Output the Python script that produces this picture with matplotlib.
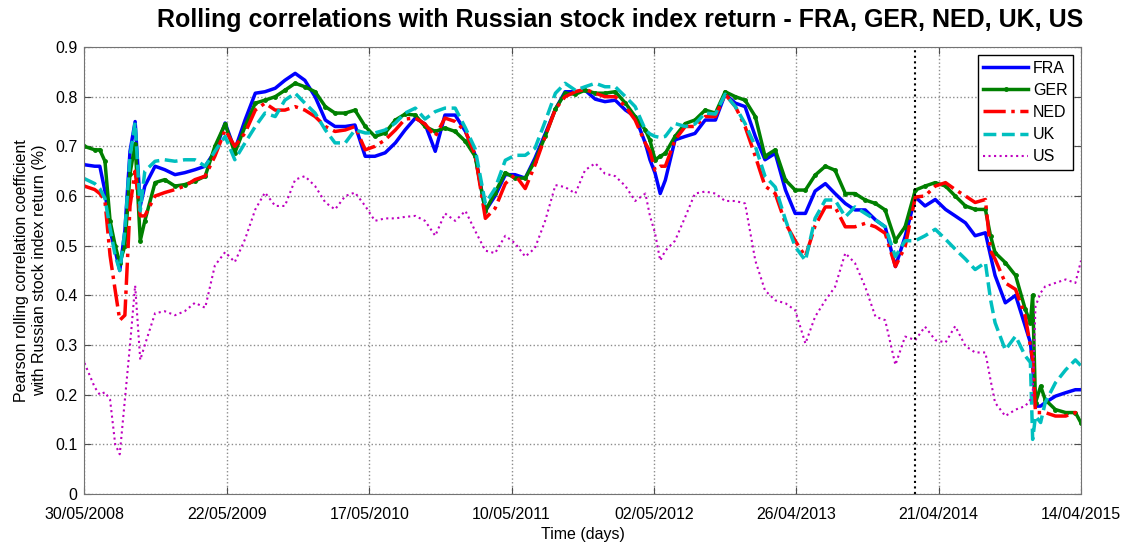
import numpy as np
import matplotlib
matplotlib.use("Agg")
from matplotlib import pyplot as plt

plt.rcParams['font.family'] = ['Liberation Sans', 'DejaVu Sans']

# trading-day index of each sampled point
days = [0, 18, 27, 36, 45, 54, 62, 71, 80, 89, 98, 106, 124, 141, 159, 176, 194, 212,
        229, 247, 264, 282, 300, 317, 335, 352, 370, 387, 405, 423, 440, 458, 475, 493,
        510, 528, 546, 563, 581, 598, 616, 633, 651, 669, 686, 704, 721, 739, 756, 774,
        791, 809, 827, 844, 862, 879, 897, 914, 932, 950, 967, 985, 993, 1002, 1011, 1020,
        1037, 1055, 1072, 1090, 1108, 1125, 1143, 1160, 1178, 1195, 1213, 1231, 1248, 1266,
        1283, 1301, 1318, 1336, 1353, 1371, 1389, 1406, 1424, 1441, 1459, 1476, 1494, 1512,
        1529, 1547, 1564, 1582, 1591, 1599, 1617, 1635, 1652, 1661, 1665, 1670, 1679, 1687,
        1705, 1723, 1740, 1750]

fra = [0.663, 0.660, 0.660, 0.610, 0.530, 0.490, 0.450, 0.530, 0.690, 0.750, 0.580, 0.620,
       0.660, 0.653, 0.643, 0.647, 0.653, 0.660, 0.690, 0.747, 0.693, 0.753, 0.807, 0.810,
       0.817, 0.833, 0.847, 0.833, 0.800, 0.753, 0.740, 0.740, 0.743, 0.680, 0.680, 0.687,
       0.707, 0.733, 0.757, 0.745, 0.690, 0.763, 0.763, 0.730, 0.683, 0.570, 0.600, 0.643,
       0.643, 0.636, 0.676, 0.725, 0.775, 0.810, 0.810, 0.813, 0.795, 0.790, 0.793, 0.773,
       0.760, 0.706, 0.673, 0.646, 0.605, 0.632, 0.713, 0.720, 0.726, 0.753, 0.753, 0.805,
       0.787, 0.780, 0.720, 0.673, 0.686, 0.612, 0.565, 0.565, 0.610, 0.625, 0.605, 0.585,
       0.572, 0.572, 0.552, 0.538, 0.458, 0.518, 0.598, 0.580, 0.593, 0.573, 0.560, 0.546,
       0.520, 0.526, 0.480, 0.440, 0.385, 0.400, 0.338, 0.305, 0.260, 0.177, 0.177, 0.184,
       0.197, 0.204, 0.210, 0.210]

ger = [0.700, 0.693, 0.693, 0.670, 0.550, 0.500, 0.465, 0.500, 0.645, 0.705, 0.510, 0.550,
       0.627, 0.633, 0.620, 0.623, 0.630, 0.640, 0.700, 0.745, 0.687, 0.740, 0.787, 0.793,
       0.800, 0.813, 0.827, 0.820, 0.810, 0.780, 0.767, 0.767, 0.773, 0.740, 0.720, 0.727,
       0.753, 0.765, 0.763, 0.740, 0.730, 0.737, 0.730, 0.710, 0.680, 0.570, 0.607, 0.647,
       0.636, 0.636, 0.670, 0.720, 0.775, 0.807, 0.805, 0.813, 0.807, 0.807, 0.810, 0.787,
       0.760, 0.733, 0.712, 0.673, 0.680, 0.686, 0.720, 0.746, 0.753, 0.773, 0.767, 0.810,
       0.800, 0.793, 0.760, 0.680, 0.693, 0.632, 0.612, 0.612, 0.642, 0.660, 0.652, 0.605,
       0.605, 0.592, 0.585, 0.572, 0.510, 0.538, 0.612, 0.620, 0.627, 0.620, 0.600, 0.580,
       0.573, 0.573, 0.520, 0.486, 0.466, 0.440, 0.372, 0.345, 0.400, 0.184, 0.217, 0.190,
       0.170, 0.164, 0.164, 0.143]

ned = [0.620, 0.613, 0.605, 0.590, 0.480, 0.410, 0.350, 0.360, 0.580, 0.650, 0.560, 0.560,
       0.600, 0.607, 0.613, 0.620, 0.633, 0.640, 0.680, 0.733, 0.700, 0.727, 0.773, 0.787,
       0.773, 0.773, 0.780, 0.773, 0.760, 0.740, 0.730, 0.733, 0.740, 0.693, 0.700, 0.713,
       0.733, 0.755, 0.757, 0.745, 0.720, 0.757, 0.750, 0.730, 0.683, 0.555, 0.575, 0.625,
       0.643, 0.615, 0.662, 0.720, 0.775, 0.800, 0.810, 0.815, 0.807, 0.800, 0.800, 0.780,
       0.753, 0.706, 0.690, 0.652, 0.660, 0.660, 0.713, 0.740, 0.740, 0.760, 0.760, 0.805,
       0.780, 0.740, 0.680, 0.620, 0.605, 0.545, 0.510, 0.478, 0.540, 0.578, 0.578, 0.538,
       0.538, 0.545, 0.538, 0.525, 0.458, 0.498, 0.598, 0.600, 0.620, 0.627, 0.613, 0.600,
       0.587, 0.593, 0.490, 0.473, 0.425, 0.412, 0.358, 0.298, 0.270, 0.164, 0.164, 0.164,
       0.157, 0.157, 0.164, 0.157]

uk = [0.635, 0.625, 0.615, 0.595, 0.535, 0.480, 0.450, 0.530, 0.680, 0.748, 0.570, 0.650,
      0.670, 0.673, 0.670, 0.673, 0.673, 0.660, 0.690, 0.720, 0.673, 0.707, 0.740, 0.767,
      0.760, 0.793, 0.807, 0.787, 0.767, 0.733, 0.707, 0.707, 0.733, 0.727, 0.727, 0.733,
      0.747, 0.767, 0.777, 0.755, 0.770, 0.777, 0.777, 0.737, 0.695, 0.585, 0.615, 0.672,
      0.682, 0.682, 0.696, 0.750, 0.807, 0.827, 0.813, 0.820, 0.827, 0.820, 0.820, 0.800,
      0.780, 0.733, 0.725, 0.720, 0.718, 0.720, 0.746, 0.740, 0.745, 0.767, 0.765, 0.805,
      0.780, 0.746, 0.700, 0.640, 0.618, 0.552, 0.498, 0.470, 0.555, 0.592, 0.592, 0.558,
      0.578, 0.565, 0.552, 0.538, 0.478, 0.510, 0.510, 0.520, 0.533, 0.513, 0.493, 0.473,
      0.452, 0.466, 0.392, 0.345, 0.290, 0.318, 0.278, 0.265, 0.110, 0.157, 0.144, 0.184,
      0.224, 0.250, 0.270, 0.258]

us = [0.264, 0.215, 0.200, 0.205, 0.190, 0.100, 0.080, 0.190, 0.300, 0.420, 0.270, 0.300,
      0.364, 0.368, 0.360, 0.368, 0.385, 0.375, 0.460, 0.487, 0.467, 0.513, 0.573, 0.607,
      0.580, 0.580, 0.633, 0.640, 0.620, 0.587, 0.573, 0.600, 0.607, 0.580, 0.550, 0.555,
      0.555, 0.558, 0.560, 0.550, 0.520, 0.565, 0.550, 0.570, 0.530, 0.490, 0.485, 0.520,
      0.505, 0.478, 0.495, 0.550, 0.622, 0.618, 0.605, 0.652, 0.666, 0.645, 0.640, 0.620,
      0.590, 0.605, 0.560, 0.525, 0.470, 0.490, 0.510, 0.558, 0.605, 0.609, 0.605, 0.590,
      0.590, 0.585, 0.470, 0.410, 0.390, 0.384, 0.370, 0.303, 0.357, 0.390, 0.417, 0.485,
      0.465, 0.417, 0.357, 0.350, 0.260, 0.317, 0.310, 0.337, 0.310, 0.305, 0.338, 0.298,
      0.285, 0.285, 0.230, 0.184, 0.157, 0.170, 0.177, 0.190, 0.200, 0.378, 0.405, 0.418,
      0.425, 0.432, 0.425, 0.470]

tick_days = [0, 250, 500, 750, 1000, 1250, 1500, 1750]
tick_labels = ['30/05/2008', '22/05/2009', '17/05/2010', '10/05/2011',
               '02/05/2012', '26/04/2013', '21/04/2014', '14/04/2015']
event_day = 1458

fig = plt.figure(figsize=(11.32, 5.43), dpi=100)
ax = fig.add_axes([0.0746, 0.0902, 0.8804, 0.8232])

ax.plot(days, fra, color=(0, 0, 1), lw=2.5, label='FRA')
ax.plot(days, ger, color=(0, 0.5, 0), lw=2.5, marker='.', ms=5, label='GER')
ax.plot(days, ned, color=(1, 0, 0), lw=2.5, ls='-.', label='NED')
ax.plot(days, uk, color=(0, 0.75, 0.75), lw=2.5, ls='--', label='UK')
ax.plot(days, us, color=(0.75, 0, 0.75), lw=1.5, ls=':', label='US')

ax.axvline(event_day, color='black', ls=':', lw=1.5)

ax.set_xlim(0, 1750)
ax.set_ylim(0, 0.9)
ax.set_xticks(tick_days)
ax.set_xticklabels(tick_labels)
ax.set_yticks(np.arange(0, 0.91, 0.1))
ax.set_yticklabels(['0', '0.1', '0.2', '0.3', '0.4', '0.5', '0.6', '0.7', '0.8', '0.9'])
ax.tick_params(direction='in', top=True, right=True, labelsize=11.5, length=5,
               color='0.3')
ax.tick_params(axis='x', pad=9)
ax.tick_params(axis='y', pad=5)
ax.grid(True, color='0.55', ls=':', lw=1)
ax.set_axisbelow(True)
for s in ax.spines.values():
    s.set_color('0.45')

fig.text(0.548, 0.963,
         'Rolling correlations with Russian stock index return - FRA, GER, NED, UK, US',
         fontsize=18, fontweight='bold', ha='center', va='center')
ax.set_xlabel('Time (days)', fontsize=11.5, labelpad=4)
ax.set_ylabel('Pearson rolling correlation coefficient\nwith Russian stock index return (%)',
              fontsize=11.5, labelpad=6)

leg = ax.legend(loc='upper right', fontsize=11.5, fancybox=False, framealpha=1,
                edgecolor='black', handlelength=2.8, handletextpad=0.3,
                borderpad=0.35, labelspacing=0.45, borderaxespad=0.5)
leg.get_frame().set_linewidth(1)

plt.savefig('out.png', dpi=100)
